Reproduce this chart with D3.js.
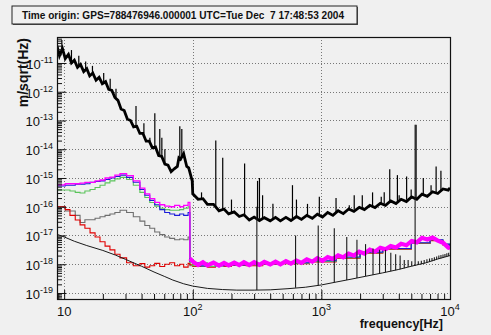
<!DOCTYPE html>
<html><head><meta charset="utf-8">
<script src="https://cdn.jsdelivr.net/npm/d3@7"></script>
<style>
html,body{margin:0;padding:0;background:#f0f0f0;}
svg{display:block;font-family:"Liberation Sans",Arial,sans-serif;}
</style></head><body>
<svg id="c" width="491" height="335"></svg>
<script>
// ---------------- DATA (amplitudes given as log10 of m/sqrt(Hz)) ----------------
const titleText = "Time origin: GPS=788476946.000001 UTC=Tue Dec  7 17:48:53 2004";
const xTitle = "frequency[Hz]";
const yTitle = "m/sqrt(Hz)";
const xTickDecades = [1, 2, 3, 4];
const yTickDecades = [-19, -18, -17, -16, -15, -14, -13, -12, -11];

// black (total) spectrum, low part
const freqBlackLow = [8.8,9.2,9.7,10.2,10.8,11.4,12.0,12.7,13.4,14.2,15.0,15.8,16.7,17.7,18.7,19.8,21.0,22.2,23.5,24.8,26.2,27.7,29.3,31.0,32.8,34.7,36.7,38.8,41.0,43.4,45.9,48.5,51.3,54.3,57.4,60.7,64.2,67.9,71.8,75.9,78,80.3,84.9,89.8,93,97,99];
const blackLow = [-10.4,-10.75,-10.5,-10.85,-10.7,-11.0,-10.9,-11.15,-11.05,-11.3,-11.2,-11.45,-11.35,-11.6,-11.5,-11.72,-11.65,-11.92,-11.95,-12.2,-12.3,-12.6,-12.65,-12.95,-13.0,-13.22,-13.2,-13.45,-13.45,-13.72,-13.72,-13.95,-13.92,-14.22,-14.25,-14.52,-14.55,-14.78,-14.68,-14.6,-14.3,-14.35,-14.15,-14.6,-14.65,-14.95,-15.1];

// shared high-frequency grid
const freqHigh = [100,110,120,130,145,160,175,190,210,230,250,275,300,330,360,400,440,480,530,580,640,700,770,850,930,1020,1120,1230,1350,1480,1630,1790,1970,2160,2380,2610,2870,3150,3460,3800,4170,4580,5030,5520,6060,6660,7310,8030,8820,9700,10000];
const blackHigh = [-15.55,-15.74,-15.72,-15.92,-15.92,-16.14,-16.08,-16.25,-16.18,-16.34,-16.28,-16.46,-16.36,-16.48,-16.38,-16.49,-16.37,-16.49,-16.37,-16.48,-16.34,-16.44,-16.3,-16.4,-16.26,-16.36,-16.2,-16.3,-16.14,-16.24,-16.08,-16.16,-16.02,-16.1,-15.95,-16.03,-15.88,-15.95,-15.8,-15.89,-15.74,-15.82,-15.66,-15.74,-15.56,-15.64,-15.48,-15.54,-15.38,-15.42,-15.34];
const magentaHigh = [-17.9,-18.03,-17.93,-18.04,-17.94,-18.05,-17.95,-18.04,-17.94,-18.03,-17.93,-18.03,-17.93,-18.02,-17.92,-18.01,-17.91,-18.0,-17.89,-17.98,-17.87,-17.95,-17.83,-17.91,-17.79,-17.88,-17.75,-17.82,-17.69,-17.76,-17.63,-17.7,-17.56,-17.63,-17.49,-17.56,-17.43,-17.48,-17.37,-17.42,-17.29,-17.34,-17.19,-17.24,-17.08,-17.14,-17.07,-17.18,-17.25,-17.42,-17.44];

// coloured histograms below 100 Hz
const freqLow = [8.77,9.3,10.2,11.1,12.2,13.3,14.5,15.9,17.4,19.0,20.8,22.7,24.8,27.2,30.6,34.5,38.8,42.4,46.3,50.6,55.4,60.5,66.2,72.3,79.1,85,92,95];
const magentaLow = [-15.24,-15.24,-15.2,-15.2,-15.2,-15.18,-15.15,-15.15,-15.1,-15.07,-15.0,-14.97,-14.9,-14.85,-14.92,-15.1,-15.35,-15.55,-15.72,-15.85,-15.93,-15.98,-16.0,-15.95,-16.0,-15.95,-15.85,-17.8];
const blueLow = [-15.28,-15.28,-15.25,-15.25,-15.22,-15.22,-15.2,-15.15,-15.12,-15.1,-15.05,-15.0,-14.95,-14.9,-14.98,-15.15,-15.4,-15.6,-15.78,-15.93,-16.1,-16.2,-16.25,-16.3,-16.25,-16.3,-16.2,-17.9];
const greenLow = [-15.42,-15.42,-15.42,-15.45,-15.5,-15.52,-15.45,-15.4,-15.33,-15.25,-15.17,-15.1,-15.03,-14.98,-15.05,-15.25,-15.5,-15.68,-15.85,-15.98,-16.05,-16.1,-16.12,-16.12,-16.1,-16.05,-16.0,-17.95];
const grayLow = [-16.0,-16.0,-16.15,-16.15,-16.3,-16.55,-16.45,-16.45,-16.4,-16.35,-16.3,-16.25,-16.2,-16.12,-16.2,-16.35,-16.5,-16.65,-16.75,-16.88,-16.97,-17.05,-17.1,-17.15,-17.12,-17.15,-17.05,-18.05];
const redLow = [-16.0,-16.0,-16.1,-16.3,-16.46,-16.63,-16.75,-16.91,-17.05,-17.22,-17.37,-17.5,-17.65,-17.78,-17.95,-18.05,-17.98,-18.1,-18.05,-17.97,-18.08,-18.0,-17.95,-18.05,-18.0,-18.1,-17.97,-18.02];

// coloured histograms above 100 Hz (mostly hidden under magenta)
const freqTail = [100,115,130,150,175,200,260,350,500,800,1300,2000,3000,5000,7000,8800,10000];
const blueTail = [-17.95,-18.05,-17.98,-18.05,-18.0,-18.02,-18.0,-17.98,-17.95,-17.88,-17.75,-17.58,-17.45,-17.25,-17.15,-17.3,-17.45];
const greenTail = [-18.05,-17.95,-18.08,-18.0,-18.05,-18.0,-18.02,-17.98,-17.96,-17.9,-17.77,-17.6,-17.46,-17.26,-17.15,-17.32,-17.47];
const grayTail = [-18.02,-18.08,-18.02,-18.06,-18.0,-18.04,-18.02,-17.99,-17.97,-17.9,-17.78,-17.6,-17.47,-17.27,-17.17,-17.31,-17.46];
const redTail = [-18.08,-18.0,-18.1,-18.04,-18.08,-18.02,-18.05,-18.0,-17.98,-17.92,-17.79,-17.62,-17.48,-17.28,-17.18,-17.33,-17.48];

// thin black model curve
const freqThin = [8.7,10,12,15,20,25,30,40,50,60,70,85,100,130,170,220,300,400,550,750,1000,1300,1700,2200,3000,4000,5000,6500,8000,10000];
const thinBlack = [-16.95,-17.05,-17.2,-17.35,-17.52,-17.68,-17.83,-18.07,-18.27,-18.42,-18.55,-18.68,-18.76,-18.84,-18.88,-18.9,-18.9,-18.89,-18.85,-18.8,-18.72,-18.62,-18.52,-18.42,-18.3,-18.18,-18.07,-17.95,-17.82,-17.7];

// spectral lines: [frequency, base, peak]
const blackSpikes = [[9.6,-10.55,-10.2],[11.4,-10.95,-10.55],[13.0,-11.1,-10.75],[14.7,-11.25,-10.95],[16.6,-11.4,-11.1],[20.3,-11.7,-11.35],[22.8,-11.9,-11.55],[25.3,-12.2,-11.9],
 [36.2,-13.2,-12.5],[41.7,-13.45,-13.1],[46.4,-13.72,-13.6],[50.7,-13.93,-12.75],[55.4,-14.22,-13.3],[57.5,-14.25,-13.6],[60.7,-14.5,-14.0],[79.3,-14.33,-13.2],[82.2,-14.3,-13.3],
 [100,-15.55,-15.0],[117,-15.75,-15.5],[151,-16.0,-13.7],[171,-16.1,-14.3],[200,-16.2,-15.75],[253,-16.3,-14.5],[319,-16.4,-15.1],[330,-16.42,-15.0],[349,-16.42,-15.6],[420,-16.42,-15.9],[596,-16.42,-15.25],[640,-16.4,-15.75],[780,-16.36,-15.9],[964,-16.3,-15.65],
 [1300,-16.2,-15.7],[1648,-16.12,-15.95],[1800,-16.1,-15.6],[2080,-16.05,-15.6],[2500,-15.98,-15.5],[2920,-15.92,-15.65],[3080,-15.9,-15.5],[3400,-15.86,-14.7],[3900,-15.82,-14.9],[4025,-15.82,-15.6],[4600,-15.76,-14.95],[4990,-15.72,-15.4],[5450,-15.7,-13.15],[6200,-15.6,-15.0],[7125,-15.55,-15.25],[7800,-15.5,-14.6],[8500,-15.42,-14.75]];
const thinSpikes = [[315,-18.9,-16.0],[630,-18.82,-17.0],[945,-18.74,-16.65],[1260,-18.63,-16.75],[1575,-18.55,-17.05],[1890,-18.48,-17.15],[2205,-18.42,-17.3],[2520,-18.37,-17.45],[2835,-18.32,-17.5],[3150,-18.28,-17.5],[3465,-18.24,-17.6],[3780,-18.21,-17.65],[4095,-18.17,-17.7],[4410,-18.14,-17.85],[4725,-18.1,-17.85],[5040,-18.07,-17.9],[5355,-18.05,-13.15],[5670,-18.02,-17.9],[5985,-18.0,-17.88],[6300,-17.97,-17.85],[6615,-17.95,-17.83],[6930,-17.92,-17.8],[7245,-17.9,-17.78],[7560,-17.87,-17.76],[7875,-17.84,-17.73],[8190,-17.82,-17.7],[8505,-17.79,-17.68],[8820,-17.77,-17.66],[9135,-17.75,-17.64],[9450,-17.73,-17.62],[9765,-17.71,-17.6]];

// ---------------- CHART ----------------
const svg = d3.select("#c");
const F = {l:57, r:450, t:37, b:299};
const x = d3.scaleLog().domain([8.8, 1e4]).range([F.l, F.r]);
const y = d3.scaleLog().domain([6.18e-20, 8.02e-11]).range([F.b, F.t]);
const p = e => Math.pow(10, e);
const zip = (fs, vs) => fs.map((f, i) => [f, p(vs[i])]);

svg.append("rect").attr("width", 491).attr("height", 335).attr("fill", "#f0f0f0");

// title pave
svg.append("rect").attr("x", 13).attr("y", 7).attr("width", 345).attr("height", 18).attr("fill", "#555");
svg.append("rect").attr("x", 12).attr("y", 6).attr("width", 345).attr("height", 18).attr("fill", "#f0f0f0").attr("stroke", "#222").attr("stroke-width", 1);
svg.append("text").attr("x", 22).attr("y", 19).attr("font-size", 10).attr("font-weight", "bold")
  .attr("fill", "#111").style("white-space", "pre").attr("textLength", 322).attr("lengthAdjust", "spacingAndGlyphs").text(titleText);

svg.append("defs").append("clipPath").attr("id", "clip").append("rect")
  .attr("x", F.l).attr("y", F.t).attr("width", F.r - F.l).attr("height", F.b - F.t);

// grid
const gGrid = svg.append("g").attr("stroke", "#777").attr("stroke-dasharray", "1,2").attr("stroke-width", 1);
xTickDecades.filter(d => d < 4).forEach(d => {
  gGrid.append("line").attr("x1", Math.round(x(p(d))) + 0.5).attr("x2", Math.round(x(p(d))) + 0.5).attr("y1", F.t).attr("y2", F.b);
});
yTickDecades.forEach(d => {
  gGrid.append("line").attr("y1", Math.round(y(p(d))) + 0.5).attr("y2", Math.round(y(p(d))) + 0.5).attr("x1", F.l).attr("x2", F.r);
});

const plot = svg.append("g").attr("clip-path", "url(#clip)");
const lineStep = d3.line().x(d => x(d[0])).y(d => y(d[1])).curve(d3.curveStepAfter);
const lineLin = d3.line().x(d => x(d[0])).y(d => y(d[1]));

function series(fs, vs, color, w, gen) {
  plot.append("path").datum(zip(fs, vs)).attr("d", gen).attr("fill", "none")
    .attr("stroke", color).attr("stroke-width", w).attr("stroke-linejoin", "miter");
}
series(freqLow.concat(freqTail), grayLow.concat(grayTail), "#6e6e6e", 1.1, lineStep);
series(freqLow.concat(freqTail), redLow.concat(redTail), "#e00000", 1.1, lineStep);
series(freqLow.concat(freqTail), greenLow.concat(greenTail), "#5cc45c", 1.1, lineStep);
series(freqLow.concat(freqTail), blueLow.concat(blueTail), "#1c1cd8", 1.1, lineStep);
series(freqLow, magentaLow, "#ff00ff", 1.3, lineStep);
series([95].concat(freqHigh), [-17.8].concat(magentaHigh), "#ff00ff", 4.2, lineLin);
series(freqThin, thinBlack, "#1a1a1a", 1, lineLin);
series(freqBlackLow.concat(freqHigh), blackLow.concat(blackHigh), "#000", 2.8, lineLin);

function spikes(list, color, w) {
  plot.append("g").selectAll("path").data(list).join("path")
    .attr("d", d => lineLin([[d[0], p(d[1])], [d[0], p(d[2])]]))
    .attr("stroke", color).attr("stroke-width", w).attr("fill", "none");
}
spikes(thinSpikes, "#1a1a1a", 1.1);
spikes(blackSpikes, "#000", 1.2);

// frame
svg.append("rect").attr("x", F.l + 0.5).attr("y", F.t + 0.5).attr("width", F.r - F.l).attr("height", F.b - F.t)
  .attr("fill", "none").attr("stroke", "#111").attr("stroke-width", 1.2);

// axes (ticks inside frame)
const xMajor = xTickDecades.map(p).filter(v => v <= 1e4);
const xMinor = [];
[0, 1, 2, 3].forEach(d => { for (let k = 2; k <= 9; k++) { const v = k * p(d); if (v >= 8.8 && v <= 1e4) xMinor.push(v); } });
const yMajor = yTickDecades.map(p);
const yMinor = [];
[-20, -19, -18, -17, -16, -15, -14, -13, -12, -11].forEach(d => { for (let k = 2; k <= 9; k++) { const v = k * p(d); if (v >= 6.18e-20 && v <= 8.02e-11) yMinor.push(v); } });

function styleAxis(g) { g.select(".domain").remove(); g.selectAll("line").attr("stroke", "#111"); g.selectAll("text").remove(); }
svg.append("g").attr("transform", `translate(0,${F.b})`).call(d3.axisBottom(x).tickValues(xMajor).tickSize(-9).tickFormat("")).call(styleAxis);
svg.append("g").attr("transform", `translate(0,${F.b})`).call(d3.axisBottom(x).tickValues(xMinor).tickSize(-5).tickFormat("")).call(styleAxis);
svg.append("g").attr("transform", `translate(${F.l},0)`).call(d3.axisLeft(y).tickValues(yMajor).tickSize(-9).tickFormat("")).call(styleAxis);
svg.append("g").attr("transform", `translate(${F.l},0)`).call(d3.axisLeft(y).tickValues(yMinor).tickSize(-5).tickFormat("")).call(styleAxis);

// tick labels
xTickDecades.forEach(d => {
  const t = svg.append("text").attr("x", x(p(d))).attr("y", 316).attr("text-anchor", "middle")
    .attr("font-size", 13).attr("fill", "#111");
  t.append("tspan").text("10");
  if (d > 1) t.append("tspan").attr("dy", -6).attr("font-size", 9).text(d);
});
yTickDecades.forEach(d => {
  const t = svg.append("text").attr("x", 53).attr("y", y(p(d)) + 6).attr("text-anchor", "end")
    .attr("font-size", 13).attr("fill", "#111");
  t.append("tspan").text("10");
  t.append("tspan").attr("dy", -6).attr("font-size", 9).text(d);
});

// axis titles
svg.append("text").attr("x", 443).attr("y", 328).attr("text-anchor", "end").attr("font-size", 12.5)
  .attr("font-weight", "bold").attr("fill", "#111").text(xTitle);
svg.append("text").attr("transform", "translate(28,38) rotate(-90)").attr("text-anchor", "end")
  .attr("font-size", 14).attr("font-weight", "bold").attr("fill", "#111").text(yTitle);
</script>
</body></html>
